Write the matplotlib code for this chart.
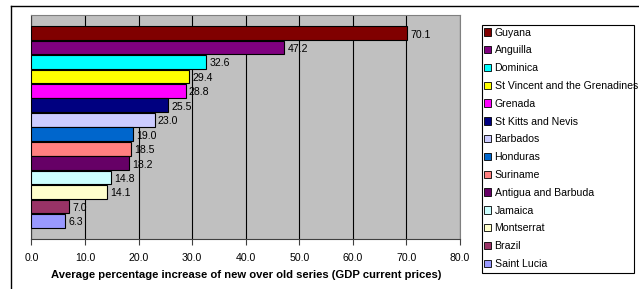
import matplotlib.pyplot as plt
from matplotlib.patches import Patch, Rectangle
from matplotlib.lines import Line2D

plt.rcParams['font.family'] = ['Liberation Sans', 'DejaVu Sans']

countries = ['Guyana', 'Anguilla', 'Dominica', 'St Vincent and the Grenadines', 'Grenada',
             'St Kitts and Nevis', 'Barbados', 'Honduras', 'Suriname', 'Antigua and Barbuda',
             'Jamaica', 'Montserrat', 'Brazil', 'Saint Lucia']
values = [70.1, 47.2, 32.6, 29.4, 28.8, 25.5, 23.0, 19.0, 18.5, 18.2, 14.8, 14.1, 7.0, 6.3]
colors = ['#800000', '#800080', '#00FFFF', '#FFFF00', '#FF00FF', '#000080', '#CCCCFF',
          '#0066CC', '#FF8080', '#660066', '#CCFFFF', '#FFFFCC', '#993366', '#9999FF']
xticks = [0, 10, 20, 30, 40, 50, 60, 70, 80]
xlabel = 'Average percentage increase of new over old series (GDP current prices)'

W, H = 639, 289
fs = 7.6
fig = plt.figure(figsize=(W / 100, H / 100), dpi=100)
ax = fig.add_axes([31.5 / W, 1 - 239 / H, (460 - 31.5) / W, (239 - 15) / H])
ax.set_facecolor('#C0C0C0')

pos = list(range(len(values)))
ax.barh(pos, values, height=0.95, color=colors, edgecolor='black', linewidth=0.8, zorder=3)
for p, v in zip(pos, values):
    ax.text(v + 0.6, p + 0.1, f'{v:.1f}', va='center', ha='left', fontsize=fs, zorder=4)

ax.set_xlim(0, 80)
ax.set_ylim(14.26, -1.26)
ax.set_xticks(xticks)
ax.set_xticklabels([f'{t:.1f}' for t in xticks], fontsize=fs)
ax.set_yticks([])
ax.tick_params(axis='x', direction='out', length=4, width=0.8, color='#404040', pad=6)
ax.xaxis.grid(True, color='black', linewidth=0.8, zorder=1)
ax.set_axisbelow(True)
ax.set_xlabel(xlabel, fontsize=8.1, fontweight='bold', labelpad=5)
for side in ['top', 'right']:
    ax.spines[side].set_color('#808080')
ax.spines['bottom'].set_color('#404040')
ax.spines['left'].set_color('#404040')

# legend with its own frame
handles = [Patch(facecolor=c, edgecolor='black', linewidth=0.6) for c in colors]
fig.legend(handles, countries, loc='upper left', bbox_to_anchor=(484 / W, 1 - 27.5 / H),
           frameon=False, fontsize=fs, handlelength=0.7, handleheight=0.7,
           handletextpad=0.3, labelspacing=0.74, borderaxespad=0, borderpad=0)
fig.add_artist(Rectangle((482 / W, 1 - 273 / H), (634 - 482) / W, (273 - 25) / H,
                         transform=fig.transFigure, fill=False, edgecolor='black', linewidth=0.8))

# outer chart border
fig.add_artist(Line2D([11 / W, 11 / W], [0, 1 - 6 / H], transform=fig.transFigure, color='black', linewidth=1))
fig.add_artist(Line2D([11 / W, 1], [1 - 6 / H, 1 - 6 / H], transform=fig.transFigure, color='black', linewidth=1))

fig.savefig('out.png', dpi=100)
